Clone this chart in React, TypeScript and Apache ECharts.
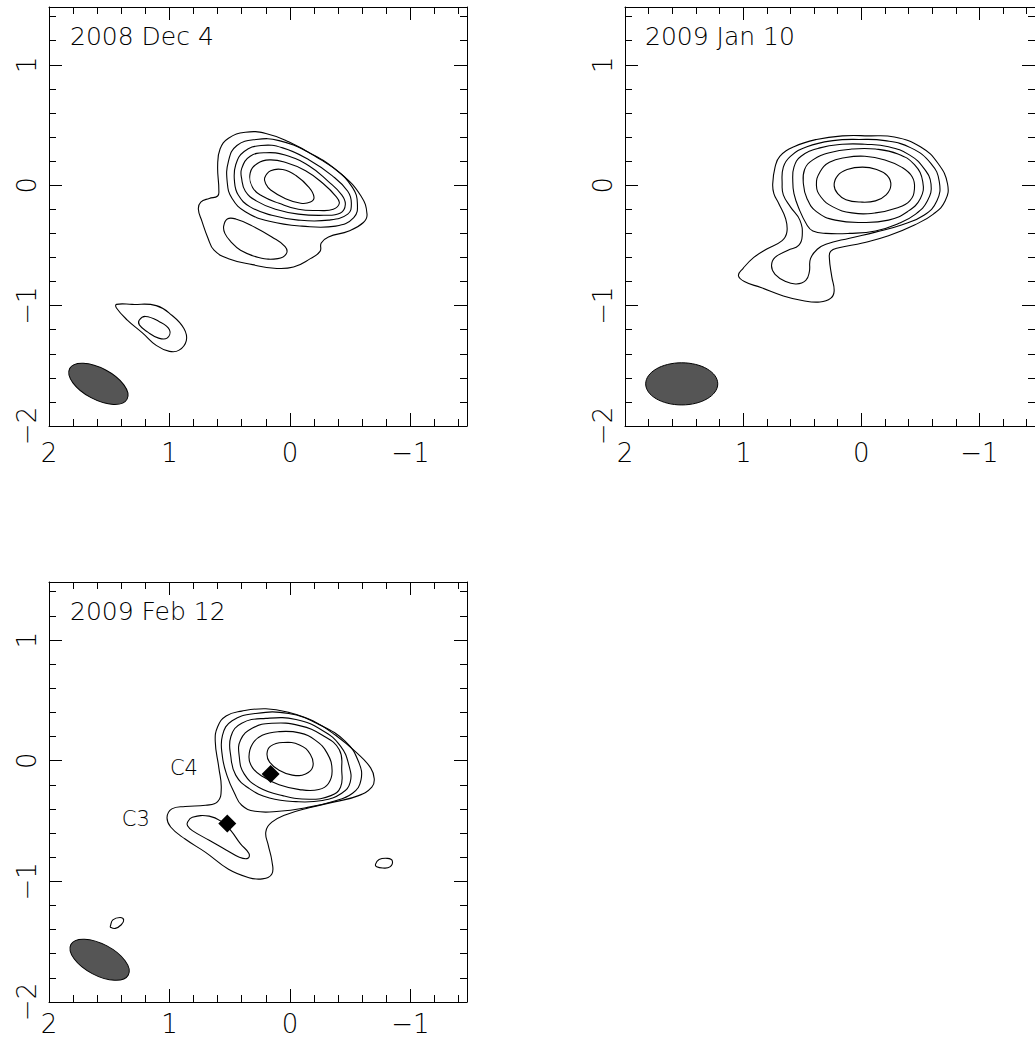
import { useEffect, useRef } from "react";
import * as echarts from "echarts";

type Pt = [number, number];

// Offsets in arcsec (RA increases to the left)
const xRange = { min: -1.47, max: 2 };
const yRange = { min: -2, max: 1.48 };

const xMajorTicks = [2, 1, 0, -1];
const xMinorTicks = [1.8, 1.6, 1.4, 1.2, 0.8, 0.6, 0.4, 0.2, -0.2, -0.4, -0.6, -0.8, -1.2, -1.4];
const yMajorTicks = [-2, -1, 0, 1];
const yMinorTicks = [-1.8, -1.6, -1.4, -1.2, -0.8, -0.6, -0.4, -0.2, 0.2, 0.4, 0.6, 0.8, 1.2, 1.4];

const epochLabels = ["2008 Dec 4", "2009 Jan 10", "2009 Feb 12"];

// Contour rings, [RA offset, Dec offset]
const dec4Contours: Pt[][] = [
  [[0.59,-0.04],[0.60,0.16],[0.58,0.30],[0.51,0.39],[0.37,0.44],[0.20,0.43],[0.01,0.36],[-0.21,0.24],[-0.43,0.09],[-0.59,-0.09],[-0.64,-0.24],[-0.61,-0.31],[-0.49,-0.38],[-0.32,-0.43],[-0.26,-0.48],[-0.25,-0.55],[-0.17,-0.61],[-0.03,-0.68],[0.13,-0.69],[0.31,-0.66],[0.51,-0.61],[0.63,-0.54],[0.68,-0.44],[0.73,-0.30],[0.76,-0.20],[0.74,-0.14],[0.67,-0.11],[0.60,-0.09]],
  [[0.51,0.20],[0.44,0.33],[0.28,0.38],[0.09,0.37],[-0.16,0.27],[-0.38,0.13],[-0.52,-0.02],[-0.56,-0.15],[-0.53,-0.27],[-0.38,-0.34],[-0.10,-0.34],[0.17,-0.30],[0.37,-0.22],[0.48,-0.11],[0.52,0.02]],
  [[0.45,0.17],[0.38,0.28],[0.24,0.33],[0.06,0.31],[-0.16,0.21],[-0.35,0.08],[-0.48,-0.05],[-0.51,-0.15],[-0.48,-0.24],[-0.32,-0.29],[-0.07,-0.29],[0.15,-0.25],[0.33,-0.18],[0.43,-0.08],[0.46,0.03]],
  [[0.40,0.14],[0.33,0.24],[0.20,0.27],[0.04,0.25],[-0.16,0.16],[-0.32,0.03],[-0.43,-0.08],[-0.46,-0.16],[-0.42,-0.23],[-0.28,-0.25],[-0.07,-0.24],[0.12,-0.20],[0.28,-0.13],[0.37,-0.05],[0.40,0.05]],
  [[0.33,0.10],[0.27,0.18],[0.17,0.21],[0.04,0.19],[-0.13,0.12],[-0.28,0.01],[-0.38,-0.09],[-0.41,-0.15],[-0.36,-0.20],[-0.24,-0.21],[-0.07,-0.20],[0.09,-0.15],[0.23,-0.09],[0.31,-0.02]],
  [[0.21,0.06],[0.16,0.12],[0.06,0.13],[-0.05,0.08],[-0.16,-0.02],[-0.20,-0.10],[-0.17,-0.14],[-0.09,-0.15],[0.04,-0.11],[0.16,-0.04],[0.20,0.01]],
  [[0.55,-0.34],[0.52,-0.28],[0.45,-0.28],[0.31,-0.34],[0.15,-0.43],[0.04,-0.51],[0.03,-0.57],[0.10,-0.61],[0.26,-0.60],[0.41,-0.54],[0.49,-0.47],[0.54,-0.40]],
  [[1.44,-0.99],[1.31,-0.99],[1.11,-1.00],[0.98,-1.08],[0.88,-1.19],[0.86,-1.29],[0.92,-1.37],[1.00,-1.38],[1.11,-1.33],[1.22,-1.23],[1.35,-1.12],[1.44,-1.02]],
  [[1.25,-1.12],[1.20,-1.09],[1.09,-1.13],[1.00,-1.20],[1.02,-1.27],[1.09,-1.27],[1.18,-1.22],[1.25,-1.16]],
];

const jan10Contours: Pt[][] = [
  [[0.75,0.01],[0.73,0.15],[0.69,0.24],[0.57,0.32],[0.38,0.38],[0.16,0.41],[-0.06,0.41],[-0.28,0.40],[-0.50,0.32],[-0.65,0.18],[-0.73,0.01],[-0.71,-0.13],[-0.61,-0.24],[-0.45,-0.33],[-0.23,-0.42],[-0.01,-0.48],[0.19,-0.52],[0.26,-0.55],[0.27,-0.61],[0.25,-0.76],[0.23,-0.88],[0.26,-0.94],[0.35,-0.97],[0.49,-0.96],[0.66,-0.92],[0.85,-0.85],[0.99,-0.80],[1.04,-0.75],[1.00,-0.69],[0.91,-0.60],[0.80,-0.53],[0.67,-0.46],[0.63,-0.39],[0.64,-0.28],[0.70,-0.15],[0.74,-0.07]],
  [[0.67,0.01],[0.66,0.15],[0.60,0.24],[0.46,0.32],[0.24,0.37],[0.02,0.38],[-0.20,0.37],[-0.42,0.31],[-0.59,0.18],[-0.66,0.03],[-0.64,-0.13],[-0.53,-0.25],[-0.34,-0.33],[-0.12,-0.39],[0.10,-0.44],[0.30,-0.49],[0.37,-0.53],[0.43,-0.61],[0.44,-0.72],[0.47,-0.79],[0.55,-0.82],[0.64,-0.80],[0.73,-0.74],[0.76,-0.67],[0.73,-0.60],[0.62,-0.54],[0.53,-0.50],[0.50,-0.42],[0.52,-0.29],[0.60,-0.18],[0.66,-0.08]],
  [[0.58,0.03],[0.57,0.15],[0.51,0.24],[0.35,0.31],[0.16,0.34],[-0.03,0.34],[-0.23,0.32],[-0.41,0.25],[-0.53,0.14],[-0.59,0.01],[-0.56,-0.13],[-0.46,-0.24],[-0.31,-0.32],[-0.12,-0.38],[0.10,-0.40],[0.30,-0.40],[0.41,-0.38],[0.46,-0.33],[0.53,-0.19],[0.57,-0.07]],
  [[0.49,0.01],[0.48,0.13],[0.41,0.21],[0.27,0.27],[0.08,0.30],[-0.12,0.30],[-0.31,0.26],[-0.45,0.17],[-0.52,0.03],[-0.50,-0.11],[-0.39,-0.22],[-0.23,-0.29],[-0.01,-0.31],[0.22,-0.29],[0.38,-0.22],[0.46,-0.11]],
  [[0.38,0.00],[0.35,0.11],[0.27,0.19],[0.13,0.23],[-0.03,0.24],[-0.20,0.21],[-0.34,0.15],[-0.43,0.07],[-0.45,-0.03],[-0.41,-0.13],[-0.30,-0.19],[-0.12,-0.23],[0.08,-0.23],[0.24,-0.18],[0.34,-0.10]],
  [[0.23,0.00],[0.20,0.08],[0.12,0.13],[-0.01,0.15],[-0.13,0.13],[-0.22,0.08],[-0.25,0.00],[-0.21,-0.08],[-0.12,-0.13],[0.01,-0.14],[0.13,-0.12],[0.20,-0.07]],
];

const feb12Contours: Pt[][] = [
  [[0.62,0.16],[0.60,0.28],[0.53,0.37],[0.40,0.41],[0.20,0.43],[0.01,0.40],[-0.19,0.33],[-0.38,0.21],[-0.56,0.06],[-0.67,-0.06],[-0.70,-0.15],[-0.68,-0.22],[-0.57,-0.29],[-0.38,-0.34],[-0.16,-0.39],[0.04,-0.45],[0.15,-0.51],[0.20,-0.59],[0.18,-0.70],[0.15,-0.83],[0.15,-0.94],[0.23,-0.98],[0.34,-0.97],[0.51,-0.90],[0.70,-0.76],[0.87,-0.65],[0.99,-0.55],[1.02,-0.47],[0.98,-0.40],[0.87,-0.38],[0.70,-0.37],[0.60,-0.34],[0.57,-0.23],[0.59,-0.06]],
  [[0.56,0.03],[0.56,0.21],[0.48,0.33],[0.29,0.39],[0.01,0.39],[-0.24,0.30],[-0.46,0.16],[-0.57,-0.01],[-0.59,-0.16],[-0.52,-0.27],[-0.35,-0.34],[-0.13,-0.39],[0.09,-0.42],[0.29,-0.42],[0.40,-0.37],[0.46,-0.27],[0.52,-0.13]],
  [[0.49,0.03],[0.49,0.20],[0.40,0.31],[0.20,0.35],[-0.05,0.34],[-0.27,0.25],[-0.42,0.12],[-0.49,-0.04],[-0.50,-0.18],[-0.43,-0.27],[-0.27,-0.33],[-0.05,-0.34],[0.17,-0.31],[0.34,-0.23],[0.45,-0.12]],
  [[0.42,0.03],[0.41,0.17],[0.31,0.27],[0.15,0.31],[-0.08,0.29],[-0.27,0.21],[-0.41,0.09],[-0.43,-0.08],[-0.42,-0.22],[-0.34,-0.29],[-0.16,-0.32],[0.06,-0.29],[0.26,-0.22],[0.38,-0.11]],
  [[0.34,0.03],[0.31,0.14],[0.23,0.21],[0.09,0.24],[-0.08,0.23],[-0.21,0.17],[-0.31,0.06],[-0.35,-0.08],[-0.32,-0.19],[-0.24,-0.24],[-0.08,-0.24],[0.09,-0.20],[0.23,-0.13],[0.31,-0.06]],
  [[0.19,0.06],[0.16,0.12],[0.06,0.15],[-0.08,0.13],[-0.17,0.05],[-0.19,-0.05],[-0.13,-0.11],[-0.02,-0.12],[0.09,-0.08],[0.17,-0.01]],
  [[0.85,-0.51],[0.81,-0.47],[0.67,-0.46],[0.56,-0.51],[0.49,-0.58],[0.41,-0.69],[0.34,-0.77],[0.35,-0.81],[0.42,-0.80],[0.53,-0.74],[0.67,-0.66],[0.81,-0.58],[0.85,-0.54]],
  [[-0.71,-0.86],[-0.74,-0.82],[-0.81,-0.81],[-0.85,-0.83],[-0.83,-0.88],[-0.77,-0.89],[-0.72,-0.88]],
  [[1.49,-1.37],[1.47,-1.32],[1.41,-1.30],[1.38,-1.32],[1.40,-1.36],[1.45,-1.39],[1.49,-1.38]],
];

// Restoring beams: centre, full major / minor axis (arcsec), position angle (deg E of N)
const beamX = [1.59, 1.52, 1.58];
const beamY = [-1.65, -1.65, -1.65];
const beamMajor = [0.54, 0.61, 0.54];
const beamMinor = [0.26, 0.35, 0.26];
const beamPA = [62, 90, 62];

// Fitted component positions in the last epoch
const componentNames = ["C4", "C3"];
const componentX = [0.16, 0.52];
const componentY = [-0.11, -0.52];
const componentLabelX = [0.88, 1.28];
const componentLabelY = [-0.06, -0.48];

const FONT = "'DejaVu Sans', sans-serif";
const WEIGHT = 200;
const INK = "#000";
const TEXT = "#000";

const panelBoxes = [
  { left: 49, top: 7, width: 418, height: 419 },
  { left: 625, top: 7, width: 418, height: 419 },
  { left: 49, top: 582, width: 418, height: 420 },
];
const titleSpots = [
  { left: 70, top: 24 },
  { left: 645, top: 24 },
  { left: 70, top: 599 },
];
const xLabelGap = [14, 14, 9];

const fmt = (v: number) => (v < 0 ? "\u2212" + Math.abs(v) : String(v));

function tickAxis(base: any, position: string, ticks: number[], len: number, line: boolean, label: any) {
  return {
    ...base,
    position,
    splitLine: { show: false },
    axisLine: { show: line, onZero: false, lineStyle: { color: INK, width: 1 } },
    axisTick: { show: true, inside: true, length: len, customValues: ticks, lineStyle: { color: INK, width: 1 } },
    axisLabel: label,
  };
}

function axesFor(g: number) {
  const xb = { type: "value", gridIndex: g, min: xRange.min, max: xRange.max, inverse: true };
  const yb = { type: "value", gridIndex: g, min: yRange.min, max: yRange.max };
  const none = { show: false };
  const xLabel = {
    show: true, customValues: xMajorTicks, formatter: fmt, margin: xLabelGap[g],
    fontSize: 26, lineHeight: 26, color: TEXT, fontFamily: FONT, fontWeight: WEIGHT,
  };
  const yLabel = {
    show: true, customValues: yMajorTicks, formatter: fmt, margin: 9, rotate: 90,
    fontSize: 26, lineHeight: 26, color: TEXT, fontFamily: FONT, fontWeight: WEIGHT,
  };
  return {
    x: [
      tickAxis(xb, "bottom", xMajorTicks, 13, true, xLabel),
      tickAxis(xb, "bottom", xMinorTicks, 7, false, none),
      tickAxis(xb, "top", xMajorTicks, 13, true, none),
      tickAxis(xb, "top", xMinorTicks, 7, false, none),
    ],
    y: [
      tickAxis(yb, "left", yMajorTicks, 13, true, yLabel),
      tickAxis(yb, "left", yMinorTicks, 7, false, none),
      tickAxis(yb, "right", yMajorTicks, 13, true, none),
      tickAxis(yb, "right", yMinorTicks, 7, false, none),
    ],
  };
}

function contourSeries(g: number, rings: Pt[][]) {
  return {
    type: "custom",
    coordinateSystem: "cartesian2d",
    xAxisIndex: g * 4,
    yAxisIndex: g * 4,
    silent: true,
    clip: true,
    encode: { x: 0, y: 1 },
    data: rings.map((r, i) => [r[0][0], r[0][1], i]),
    renderItem: (_p: any, api: any) => {
      const ring = rings[api.value(2)];
      return {
        type: "polygon",
        shape: { points: ring.map((p) => api.coord(p)), smooth: 0.45 },
        style: { fill: "none", stroke: INK, lineWidth: 1.1 },
      };
    },
  };
}

function beamSeries(g: number) {
  return {
    type: "custom",
    coordinateSystem: "cartesian2d",
    xAxisIndex: g * 4,
    yAxisIndex: g * 4,
    silent: true,
    encode: { x: 0, y: 1 },
    data: [[beamX[g], beamY[g]]],
    renderItem: (_p: any, api: any) => {
      const c = api.coord([api.value(0), api.value(1)]);
      const s = api.size([beamMajor[g], beamMinor[g]]);
      return {
        type: "ellipse",
        x: c[0],
        y: c[1],
        rotation: ((beamPA[g] - 90) * Math.PI) / 180,
        shape: { cx: 0, cy: 0, rx: s[0] / 2, ry: s[1] / 2 },
        style: { fill: "#555", stroke: INK, lineWidth: 1 },
      };
    },
  };
}

export default function App() {
  const ref = useRef<HTMLDivElement>(null);

  useEffect(() => {
    if (!ref.current) return;
    const chart = echarts.init(ref.current, undefined, { renderer: "svg" });
    const axes = [0, 1, 2].map(axesFor);
    const ringsByPanel = [dec4Contours, jan10Contours, feb12Contours];

    chart.setOption({
      animation: false,
      backgroundColor: "#fff",
      title: epochLabels.map((t, i) => ({
        text: t,
        left: titleSpots[i].left,
        top: titleSpots[i].top,
        padding: 0,
        textStyle: { fontSize: 25, fontWeight: WEIGHT, color: TEXT, fontFamily: FONT },
      })),
      grid: panelBoxes.map((b) => ({ ...b, containLabel: false })),
      xAxis: axes.flatMap((a) => a.x),
      yAxis: axes.flatMap((a) => a.y),
      series: [
        ...ringsByPanel.map((r, g) => contourSeries(g, r)),
        ...[0, 1, 2].map(beamSeries),
        {
          type: "scatter",
          xAxisIndex: 8,
          yAxisIndex: 8,
          silent: true,
          symbol: "diamond",
          symbolSize: 18,
          itemStyle: { color: "#000", opacity: 1 },
          data: componentX.map((x, i) => [x, componentY[i]]),
        },
        {
          type: "scatter",
          xAxisIndex: 8,
          yAxisIndex: 8,
          silent: true,
          symbolSize: 0,
          itemStyle: { opacity: 1 },
          label: {
            show: true,
            position: "inside",
            formatter: (p: any) => p.name,
            fontSize: 21,
            fontWeight: WEIGHT,
            color: TEXT,
            fontFamily: FONT,
          },
          data: componentNames.map((n, i) => ({ name: n, value: [componentLabelX[i], componentLabelY[i]] })),
        },
      ],
    });
    return () => chart.dispose();
  }, []);

  return (
    <div
      ref={ref}
      style={{ position: "absolute", left: 0, top: 0, width: 1035, height: 1038 }}
    />
  );
}
